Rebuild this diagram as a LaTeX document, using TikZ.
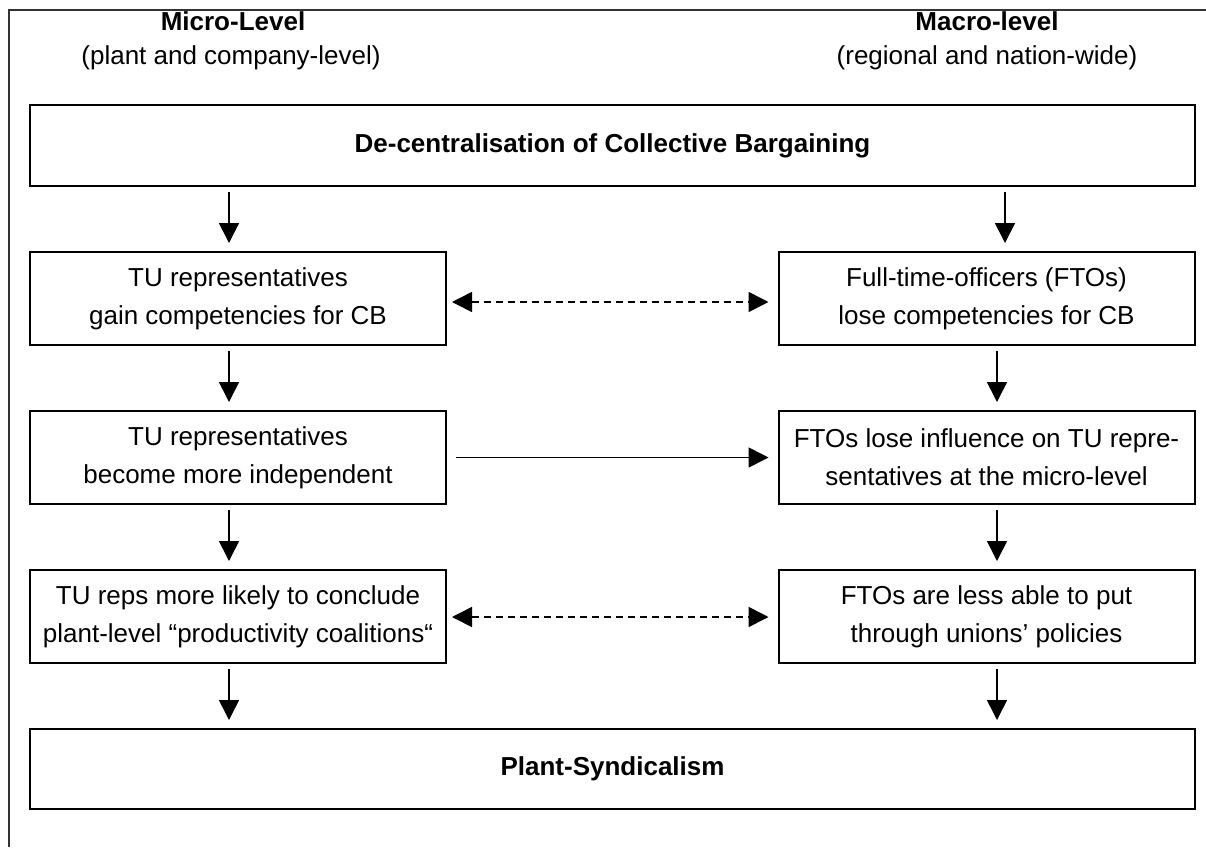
\documentclass[tikz,border=0pt]{standalone}
\usepackage{fontspec}
\setmainfont{Liberation Sans}
\usetikzlibrary{arrows.meta}
\begin{document}
\begin{tikzpicture}[x=0.5pt,y=-0.5pt,
  font=\fontsize{13}{19}\selectfont,
  box/.style={draw,line width=1pt,align=center,inner sep=0pt,minimum height=46.5pt},
  sidebox/.style={box,minimum width=208pt},
  widebox/.style={box,minimum width=582.5pt},
  head/.style={inner sep=0pt,font=\fontsize{13}{16}\selectfont},
  arr/.style={line width=0.8pt,-{Triangle[length=10pt,width=10pt]}},
  varr/.style={arr,shorten <=2.5pt,shorten >=4pt},
  darr/.style={line width=0.8pt,dash pattern=on 3.5pt off 2.5pt,
    {Triangle[length=10pt,width=10pt]}-{Triangle[length=10pt,width=10pt]},
    shorten <=2.5pt,shorten >=4.5pt}]
\useasboundingbox (0,0) rectangle (1206,847);

% open outer frame
\draw[line width=0.6pt,black!80] (1206,10) -- (9,10) -- (9,847);

% column headings
\node[head,font=\fontsize{13}{16}\selectfont\bfseries] (hmic) at (233,21.5) {Micro-Level};
\node[head] (smic) at (231,58) {(plant and company-level)};
\node[head,font=\fontsize{13}{16}\selectfont\bfseries] (hmac) at (987,21.5) {Macro-level};
\node[head] (smac) at (987,58) {(regional and nation-wide)};

% boxes
\node[widebox,minimum height=40.5pt] (top) at (612.5,145.5) {\bfseries De-centralisation of Collective Bargaining};
\node[sidebox] (L1) at (238,298.5) {TU representatives\\gain competencies for CB};
\node[sidebox] (R1) at (986.5,298.5) {Full-time-officers (FTOs)\\lose competencies for CB};
\node[sidebox] (L2) at (238,457.5) {TU representatives\\become more independent};
\node[sidebox] (R2) at (986.5,457.5) {FTOs lose influence on TU repre-\\sentatives at the micro-level};
\node[sidebox] (L3) at (238,616.5) {TU reps more likely to conclude\\plant-level “productivity coalitions“};
\node[sidebox] (R3) at (986.5,616.5) {FTOs are less able to put\\through unions’ policies};
\node[widebox,minimum height=40pt] (bot) at (612.5,769) {\bfseries Plant-Syndicalism};

% vertical flow
\draw[varr] ([xshift=-4.5pt]top.south -| L1.north) -- ([xshift=-4.5pt]L1.north);
\draw[varr] ([xshift=9.25pt]top.south -| R1.north) -- ([xshift=9.25pt]R1.north);
\draw[varr] ([xshift=-4.5pt]L1.south) -- ([xshift=-4.5pt]L2.north);
\draw[varr] ([xshift=5.25pt]R1.south) -- ([xshift=5.25pt]R2.north);
\draw[varr] ([xshift=-4.5pt]L2.south) -- ([xshift=-4.5pt]L3.north);
\draw[varr] ([xshift=5.25pt]R2.south) -- ([xshift=5.25pt]R3.north);
\draw[varr] ([xshift=-4.5pt]L3.south) -- ([xshift=-4.5pt]bot.north -| L3.south);
\draw[varr] ([xshift=5.25pt]R3.south) -- ([xshift=5.25pt]bot.north -| R3.south);

% horizontal links
\draw[darr] ([yshift=-1.75pt]L1.east) -- ([yshift=-1.75pt]R1.west);
\draw[arr,shorten <=4.5pt,shorten >=4.5pt] (L2.east) -- (R2.west);
\draw[darr] ([yshift=-0.25pt]L3.east) -- ([yshift=-0.25pt]R3.west);
\end{tikzpicture}
\end{document}
